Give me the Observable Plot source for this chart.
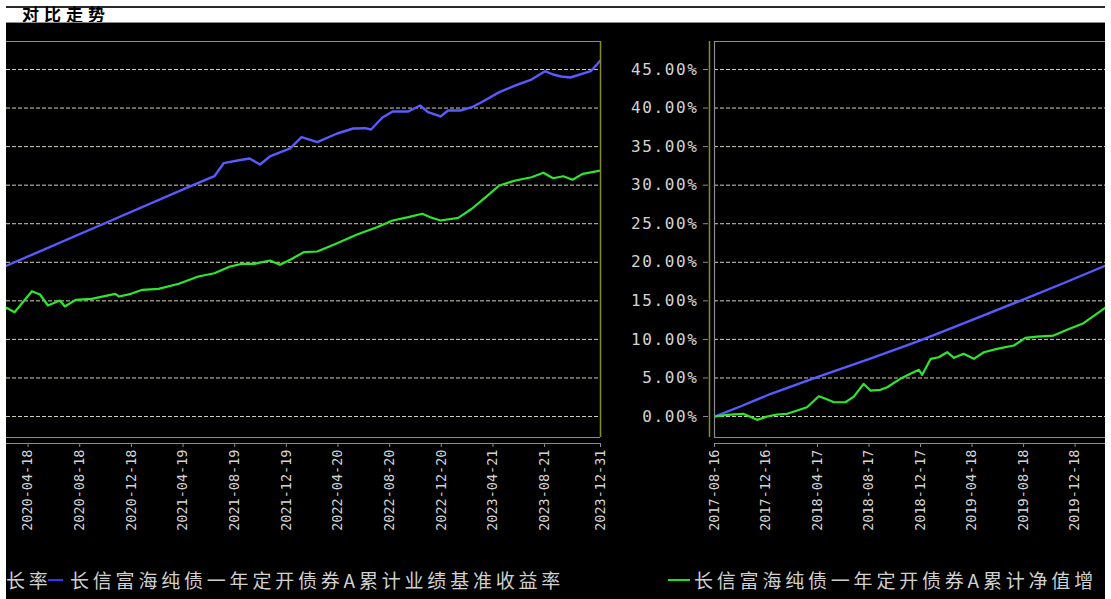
<!DOCTYPE html>
<html><head><meta charset="utf-8">
<script src="https://cdn.jsdelivr.net/npm/d3@7"></script>
<script src="https://cdn.jsdelivr.net/npm/@observablehq/plot@0.6"></script>
<style>
html,body{margin:0;padding:0;background:#fff;width:1111px;height:599px;overflow:hidden}
body{position:relative;font-family:"Noto Sans CJK SC",sans-serif}
#topline{position:absolute;left:6px;top:6px;width:1099px;height:2px;background:#2a2a2a}
#title{position:absolute;left:22px;top:5px;font-size:17px;line-height:18px;font-weight:bold;letter-spacing:5px;color:#000;white-space:nowrap}
#black{position:absolute;left:6px;top:22px;width:1099px;height:577px;background:#000;border-top:1px solid #8c8c8c;box-sizing:border-box}
#left{position:absolute;left:0;top:0}
#right{position:absolute;left:606px;top:0}
.win{position:absolute;top:565px;height:30px;overflow:hidden}
.win span.t{position:absolute;top:0;font-size:19px;line-height:30px;letter-spacing:3.8px;color:#d0d0d0;white-space:nowrap}
.win span.l{position:absolute;top:14px;height:2px}
[aria-label="y-axis tick label"] text{letter-spacing:1.6px}
</style></head>
<body>
<div id="topline"></div>
<div id="title">对比走势</div>
<div id="black"></div>
<div id="left"></div>
<div id="right"></div>
<div class="win" style="left:614px;width:491px">
  <span class="l" style="left:54px;width:22px;background:#22dd22"></span>
  <span class="t" style="left:80px">长信富海纯债一年定开债券A累计净值增</span>
</div>
<div class="win" style="left:6px;width:608px">
  <span class="t" style="left:0px">长率</span>
  <span class="l" style="left:42px;width:15px;background:#3333ff"></span>
  <span class="t" style="left:64px">长信富海纯债一年定开债券A累计业绩基准收益率</span>
</div>
<script>
// ---- data (values in %) ----
const navSeries = [
 ["2017-08-16",0.00],["2017-09-15",0.22],["2017-10-23",0.35],["2017-11-25",-0.43],["2017-12-19",0.00],
 ["2018-01-11",0.26],["2018-02-04",0.35],["2018-02-28",0.78],["2018-03-23",1.21],["2018-04-20",2.63],
 ["2018-05-06",2.30],["2018-05-26",1.85],["2018-06-22",1.85],["2018-07-12",2.59],["2018-08-04",4.24],
 ["2018-08-20",3.37],["2018-09-13",3.46],["2018-09-29",3.80],["2018-10-30",4.89],["2018-11-23",5.54],
 ["2018-12-13",6.06],["2018-12-21",5.41],["2019-01-10",7.48],["2019-01-29",7.69],["2019-02-18",8.34],
 ["2019-03-06",7.61],["2019-03-29",8.13],["2019-04-22",7.48],["2019-05-16",8.34],["2019-06-16",8.78],
 ["2019-07-26",9.21],["2019-08-22",10.21],["2019-09-19",10.37],["2019-10-28",10.50],["2019-11-29",11.24],
 ["2020-01-07",12.10],["2020-02-27",14.10],["2020-03-17",13.53],["2020-04-09",15.04],["2020-04-27",16.25],
 ["2020-05-16",15.82],["2020-06-04",14.40],["2020-07-02",15.04],["2020-07-14",14.27],["2020-08-08",15.13],
 ["2020-09-15",15.26],["2020-11-10",15.91],["2020-11-19",15.56],["2020-12-17",15.91],["2021-01-13",16.43],
 ["2021-02-20",16.56],["2021-04-09",17.21],["2021-05-25",18.16],["2021-07-02",18.58],["2021-08-08",19.45],
 ["2021-09-05",19.80],["2021-10-04",19.80],["2021-11-10",20.23],["2021-12-04",19.67],["2021-12-28",20.32],
 ["2022-01-29",21.31],["2022-03-02",21.40],["2022-04-18",22.47],["2022-06-04",23.60],["2022-07-21",24.55],
 ["2022-08-27",25.42],["2022-10-03",25.85],["2022-11-05",26.29],["2022-11-24",25.85],["2022-12-18",25.42],
 ["2023-01-29",25.77],["2023-03-02",26.94],["2023-03-30",28.23],["2023-05-06",29.96],["2023-06-13",30.61],
 ["2023-07-21",31.03],["2023-08-18",31.60],["2023-09-10",30.90],["2023-10-04",31.16],["2023-10-26",30.70],
 ["2023-11-19",31.47],["2023-12-31",31.90]
];
const benchSeries = [
 ["2017-08-16",0.00],["2017-10-16",1.30],["2017-12-26",2.92],["2018-04-16",5.10],["2018-08-20",7.52],
 ["2018-12-17",9.86],["2019-04-14",12.45],["2019-08-11",15.04],["2019-11-13",17.12],["2020-02-27",19.55],
 ["2020-10-04",24.77],["2021-05-07",29.87],["2021-07-02",31.16],["2021-07-24",32.85],["2021-08-26",33.20],
 ["2021-09-23",33.46],["2021-10-18",32.68],["2021-11-10",33.72],["2021-12-28",34.76],["2022-01-24",36.22],
 ["2022-03-02",35.57],["2022-04-18",36.70],["2022-05-26",37.35],["2022-06-23",37.39],["2022-07-07",37.22],
 ["2022-08-03",38.78],["2022-08-27",39.55],["2022-10-03",39.55],["2022-10-31",40.33],["2022-11-19",39.46],
 ["2022-12-18",38.91],["2023-01-05",39.68],["2023-02-03",39.68],["2023-03-02",40.11],["2023-03-25",40.76],
 ["2023-05-06",42.06],["2023-06-13",42.93],["2023-07-21",43.70],["2023-08-22",44.78],["2023-09-10",44.35],
 ["2023-09-29",44.09],["2023-10-21",43.96],["2023-12-08",44.78],["2023-12-31",46.17]
];
const yTicks = [0,5,10,15,20,25,30,35,40,45];
const leftTickLabels = ["2020-04-18","2020-08-18","2020-12-18","2021-04-19","2021-08-19","2021-12-19",
  "2022-04-20","2022-08-20","2022-12-20","2023-04-21","2023-08-21","2023-12-31"];
const rightTickLabels = ["2017-08-16","2017-12-16","2018-04-17","2018-08-17","2018-12-17","2019-04-18",
  "2019-08-18","2019-12-18"];

// ---- view windows / styling ----
const leftWindow = ["2020-02-27","2023-12-31"];
const rightWindow = ["2017-08-16","2020-02-28"];
const yDomain = [-2.72, 48.63];
const gridColor = "#d2d2b4", frameGray = "#8c8c8c", olive = "#8a8a28", labelColor = "#d4d4d4";
const blue = "#5a5aff", green = "#2ee62e";
const mono = "DejaVu Sans Mono, monospace";

const parse = d3.utcParse("%Y-%m-%d");
const toRows = s => s.map(([d, v]) => ({date: parse(d), value: v}));
const navRows = toRows(navSeries), benchRows = toRows(benchSeries);

function panel({win, tickLabels, width, marginLeft, marginRight, isRight}) {
  const xDom = win.map(parse);
  const marks = [
    Plot.gridY(yTicks, {stroke: gridColor, strokeOpacity: 1, strokeDasharray: "4,2"}),
    Plot.ruleY([yDomain[1]], {stroke: frameGray, strokeWidth: 1.2}),
    Plot.ruleY([yDomain[0]], {stroke: frameGray, strokeWidth: 1.2}),
    Plot.ruleY([yDomain[0]], {stroke: frameGray, strokeWidth: 1.2, dy: 6}),
    Plot.axisX({ticks: tickLabels.map(parse), tickFormat: d3.utcFormat("%Y-%m-%d"), tickRotate: -90,
      tickSize: 4, tickPadding: 2, dy: 6, stroke: frameGray, fill: labelColor, fontSize: 13.5,
      fontFamily: mono, label: null}),
    Plot.line(benchRows, {x: "date", y: "value", stroke: blue, strokeWidth: 2.4, clip: true}),
    Plot.line(navRows, {x: "date", y: "value", stroke: green, strokeWidth: 2.2, clip: true})
  ];
  if (isRight) {
    marks.push(
      Plot.ruleX([xDom[0]], {stroke: frameGray, strokeWidth: 1.2}),
      Plot.ruleX([xDom[0]], {stroke: olive, strokeWidth: 1.5, dx: -5}),
      Plot.axisY({ticks: yTicks, tickFormat: d => d.toFixed(2) + "%", anchor: "left", tickSize: 5,
        tickPadding: 5, dx: -6, stroke: frameGray, fill: labelColor, fontSize: 16, fontFamily: mono, label: null})
    );
  } else {
    marks.push(Plot.ruleX([xDom[1]], {stroke: olive, strokeWidth: 1.5}));
  }
  return Plot.plot({
    width, height: 545, marginLeft, marginRight, marginTop: 41, marginBottom: 108,
    x: {type: "utc", domain: xDom, axis: null},
    y: {domain: yDomain, axis: null},
    style: {background: "transparent", color: labelColor},
    marks
  });
}

document.getElementById("left").append(panel({win: leftWindow, tickLabels: leftTickLabels,
  width: 620, marginLeft: 6, marginRight: 20, isRight: false}));
document.getElementById("right").append(panel({win: rightWindow, tickLabels: rightTickLabels,
  width: 499, marginLeft: 108, marginRight: 0, isRight: true}));
</script>
</body></html>
